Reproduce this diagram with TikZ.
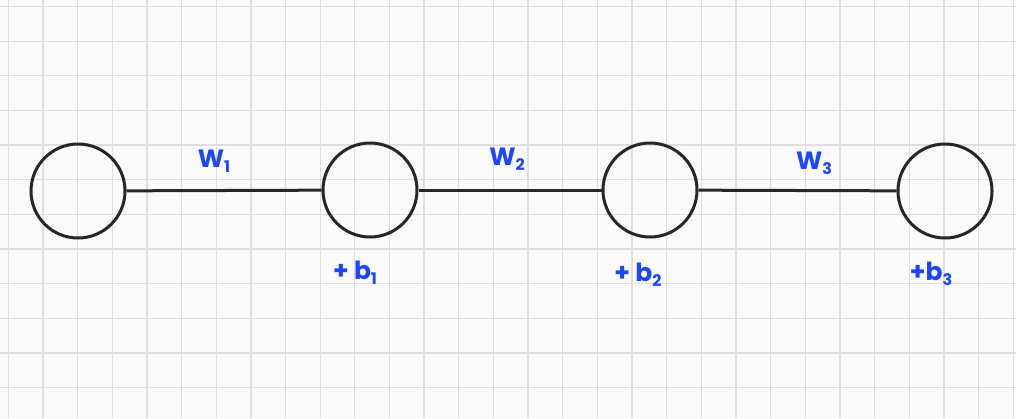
\documentclass[tikz,border=0pt]{standalone}
\usepackage{fontspec}
\setmainfont{Poppins}
\newcommand{\sbs}[1]{\raisebox{-5pt}{\fontsize{16}{16}\selectfont #1}}
\begin{document}
\begin{tikzpicture}[x=1pt,y=-1pt,
  neuron/.style={circle,draw=black!85,line width=3pt,minimum size=94pt,inner sep=0pt},
  conn/.style={draw=black!85,line width=3pt},
  lbl/.style={font=\fontsize{25}{28}\selectfont\bfseries},
  gridline/.style={draw=black!13,line width=1.3pt}]
\definecolor{hb}{RGB}{30,70,255}
\fill[white!98!black] (0,0) rectangle (1016,418);
\useasboundingbox (0,0) rectangle (1016,418);
\foreach \i in {0,...,29} {\draw[gridline] (8.3+34.65*\i,0) -- (8.3+34.65*\i,418);}
\foreach \j in {0,...,12} {\draw[gridline] (0,6.5+34.65*\j) -- (1016,6.5+34.65*\j);}
\node[neuron] (n1) at (78,191) {};
\node[neuron] (n2) at (370,190) {};
\node[neuron] (n3) at (650,190) {};
\node[neuron] (n4) at (945,191) {};
\draw[conn] (n1) -- (n2);
\draw[conn] (n2) -- (n3);
\draw[conn] (n3) -- (n4);
\node[lbl,text=hb] (w1) at (214,161) {W\sbs{1}};
\node[lbl,text=hb] (w2) at (507,159) {W\sbs{2}};
\node[lbl,text=hb] (w3) at (814,163) {W\sbs{3}};
\node[lbl,text=hb] (b1) at (355,273) {+ b\sbs{1}};
\node[lbl,text=hb] (b2) at (638,275) {+ b\sbs{2}};
\node[lbl,text=hb] (b3) at (931,274) {+b\sbs{3}};
\end{tikzpicture}
\end{document}
